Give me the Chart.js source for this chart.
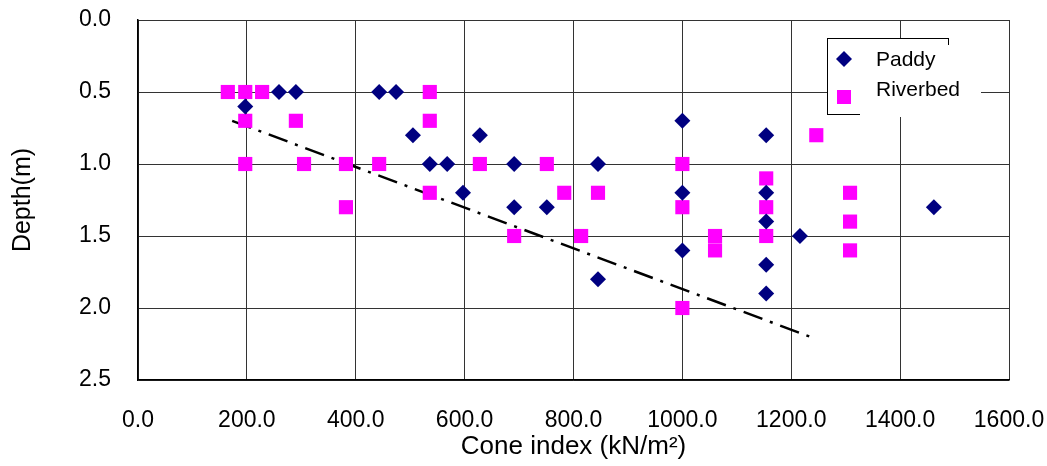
<!DOCTYPE html>
<html>
<head>
<meta charset="utf-8">
<script src="https://cdn.jsdelivr.net/npm/chart.js@4.4.0/dist/chart.umd.min.js"></script>
<style>
  body { margin: 0; background: #fff; }
  #wrap { width: 1047px; height: 466px; }
</style>
</head>
<body>
<div id="wrap"><canvas id="c"></canvas></div>
<script>
// Paddy field data (cone index kN/m2, depth m)
const paddyCone  = [197, 259, 290, 443, 474, 505, 536, 568, 597, 628, 691, 691, 751, 845, 845, 1000, 1000, 1000, 1154, 1154, 1154, 1154, 1154, 1216, 1462];
const paddyDepth = [0.6, 0.5, 0.5, 0.5, 0.5, 0.8, 1.0, 1.0, 1.2, 0.8, 1.0, 1.3, 1.3, 1.0, 1.8, 0.7, 1.2, 1.6, 0.8, 1.2, 1.4, 1.7, 1.9, 1.5, 1.3];

// Riverbed data
const riverbedCone  = [165, 197, 228, 536, 197, 290, 536, 1246, 197, 305, 382, 443, 628, 751, 1000, 1154, 536, 783, 845, 1308, 382, 1000, 1154, 1308, 691, 814, 1060, 1154, 1060, 1308, 1000];
const riverbedDepth = [0.5, 0.5, 0.5, 0.5, 0.7, 0.7, 0.7, 0.8, 1.0, 1.0, 1.0, 1.0, 1.0, 1.0, 1.0, 1.1, 1.2, 1.2, 1.2, 1.2, 1.3, 1.3, 1.3, 1.4, 1.5, 1.5, 1.5, 1.5, 1.6, 1.6, 2.0];

// trend line (dash-dot)
const trendCone  = [173, 1242];
const trendDepth = [0.70, 2.21];

const seriesNames = ['Paddy', 'Riverbed'];

function toPoints(xs, ys) {
  return xs.map((x, i) => ({ x: x, y: ys[i] }));
}

// legend box drawn inside the plot, Excel style
const boxLegend = {
  id: 'boxLegend',
  afterDraw(chart) {
    const ctx = chart.ctx;
    ctx.save();
    ctx.fillStyle = '#fff';
    ctx.fillRect(827, 38, 121, 76);
    ctx.strokeStyle = '#000';
    ctx.lineWidth = 1;
    ctx.strokeRect(827.5, 38.5, 121, 76);
    ctx.fillRect(860, 45, 121, 72);

    // markers
    ctx.fillStyle = chart.data.datasets[0].backgroundColor;
    ctx.beginPath();
    ctx.moveTo(836, 59); ctx.lineTo(844, 51); ctx.lineTo(852, 59); ctx.lineTo(844, 67);
    ctx.closePath();
    ctx.fill();
    ctx.fillStyle = chart.data.datasets[1].backgroundColor;
    ctx.fillRect(837, 90, 14, 14);

    ctx.fillStyle = '#000';
    ctx.font = '21px "Liberation Sans", Arial, sans-serif';
    ctx.textBaseline = 'middle';
    ctx.textAlign = 'left';
    ctx.fillText(seriesNames[0], 876, 60);
    ctx.fillText(seriesNames[1], 876, 90);
    ctx.restore();
  }
};

const tickFont = { family: '"Liberation Sans", Arial, sans-serif', size: 23 };

new Chart(document.getElementById('c'), {
  type: 'scatter',
  data: {
    datasets: [
      {
        label: seriesNames[0],
        data: toPoints(paddyCone, paddyDepth),
        pointStyle: 'rectRot',
        pointRadius: 8,
        pointHoverRadius: 8,
        backgroundColor: '#000080',
        borderColor: '#000080',
        borderWidth: 0
      },
      {
        label: seriesNames[1],
        data: toPoints(riverbedCone, riverbedDepth),
        pointStyle: 'rect',
        pointRadius: 10,
        pointHoverRadius: 10,
        backgroundColor: '#ff00ff',
        borderColor: '#ff00ff',
        borderWidth: 0
      },
      {
        label: 'trend',
        data: toPoints(trendCone, trendDepth),
        showLine: true,
        pointRadius: 0,
        borderColor: '#000',
        borderWidth: 2.5,
        borderDash: [20, 8, 3, 8],
        fill: false
      }
    ]
  },
  options: {
    responsive: true,
    maintainAspectRatio: false,
    animation: false,
    layout: { padding: { left: 0, right: 38, top: 20, bottom: 0 } },
    plugins: {
      legend: { display: false },
      tooltip: { enabled: false }
    },
    scales: {
      x: {
        type: 'linear',
        min: 0,
        max: 1600,
        ticks: {
          stepSize: 200,
          padding: 27,
          color: '#000',
          font: tickFont,
          maxRotation: 0,
          callback: v => v.toFixed(1)
        },
        grid: { color: '#333', lineWidth: 1, drawTicks: false },
        border: { color: '#000', width: 1.5 },
        title: {
          display: true,
          text: 'Cone index (kN/m²)',
          color: '#000',
          font: { family: '"Liberation Sans", Arial, sans-serif', size: 26 },
          padding: { top: 0, bottom: 4 }
        },
        afterFit: s => { s.height = 86; s.paddingLeft = 0; s.paddingRight = 0; }
      },
      y: {
        type: 'linear',
        reverse: true,
        min: 0,
        max: 2.5,
        ticks: {
          stepSize: 0.5,
          padding: 27,
          color: '#000',
          font: tickFont,
          callback: v => v.toFixed(1)
        },
        grid: { color: '#333', lineWidth: 1, drawTicks: false },
        border: { color: '#000', width: 1.5 },
        title: {
          display: true,
          text: 'Depth(m)',
          color: '#000',
          font: { family: '"Liberation Sans", Arial, sans-serif', size: 25 },
          padding: { top: 8, bottom: 0 }
        },
        afterFit: s => { s.width = 138; s.paddingTop = 0; s.paddingBottom = 0; }
      }
    }
  },
  plugins: [boxLegend]
});
</script>
</body>
</html>
